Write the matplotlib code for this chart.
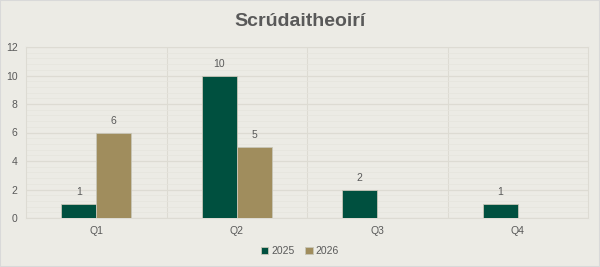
import numpy as np
from matplotlib import pyplot as plt
from matplotlib.ticker import MultipleLocator

quarters = ['Q1', 'Q2', 'Q3', 'Q4']
v2025 = [1, 10, 2, 1]
v2026 = [6, 5, None, None]

bg = '#ecebe5'
green = '#00503f'
tan = '#a08d5d'
txt = '#595959'

plt.rcParams['font.family'] = ['Liberation Sans', 'DejaVu Sans']

fig = plt.figure(figsize=(6, 2.67), dpi=100, facecolor=bg)
fig.patches.append(plt.Rectangle((0, 0), 1, 1, transform=fig.transFigure,
                                 fill=False, edgecolor='#d9d9d9', lw=1.5))
ax = fig.add_axes([26/600, 1-218/267, 562/600, 171/267])
ax.set_facecolor(bg)

x = np.arange(len(quarters))
w = 0.25
for vals, off, col, lab in [(v2025, -w/2, green, '2025'), (v2026, w/2, tan, '2026')]:
    xs = [xi + off for xi, v in zip(x, vals) if v is not None]
    ys = [v for v in vals if v is not None]
    bars = ax.bar(xs, ys, w, color=col, edgecolor='#c8c6b8', linewidth=0.6, label=lab, zorder=3)
    for b, v in zip(bars, ys):
        ax.text(b.get_x() + b.get_width()/2, v + 0.45, str(v), ha='center', va='bottom',
                fontsize=7.5, color=txt)

ax.set_xlim(-0.5, 3.5)
ax.set_ylim(0, 12)
ax.yaxis.set_major_locator(MultipleLocator(2))
ax.yaxis.set_minor_locator(MultipleLocator(0.4))
ax.grid(axis='y', which='major', color='#dddbd3', lw=0.9, zorder=0)
ax.grid(axis='y', which='minor', color='#e6e4dd', lw=0.5, zorder=0)
for b in [0.5, 1.5, 2.5]:
    ax.axvline(b, color='#dddbd3', lw=0.8, zorder=1)
for s in ax.spines.values():
    s.set_color('#dddbd3')
    s.set_linewidth(0.8)
ax.set_xticks(x)
ax.set_xticklabels(quarters)
ax.tick_params(axis='both', which='both', length=0, labelsize=7.5, colors=txt, pad=6)
ax.tick_params(axis='x', pad=6)

fig.text(0.5, 1-22/267, 'Scrúdaitheoirí', ha='center', va='center', fontsize=14,
         fontweight='bold', color=txt)
fig.legend(loc='center', bbox_to_anchor=(0.5, 1-251/267), ncol=2, frameon=False,
           fontsize=7.5, labelcolor=txt, handlelength=0.7, handleheight=0.7,
           handletextpad=0.3, columnspacing=1.0)

fig.savefig('out.png', dpi=100, facecolor=bg)
